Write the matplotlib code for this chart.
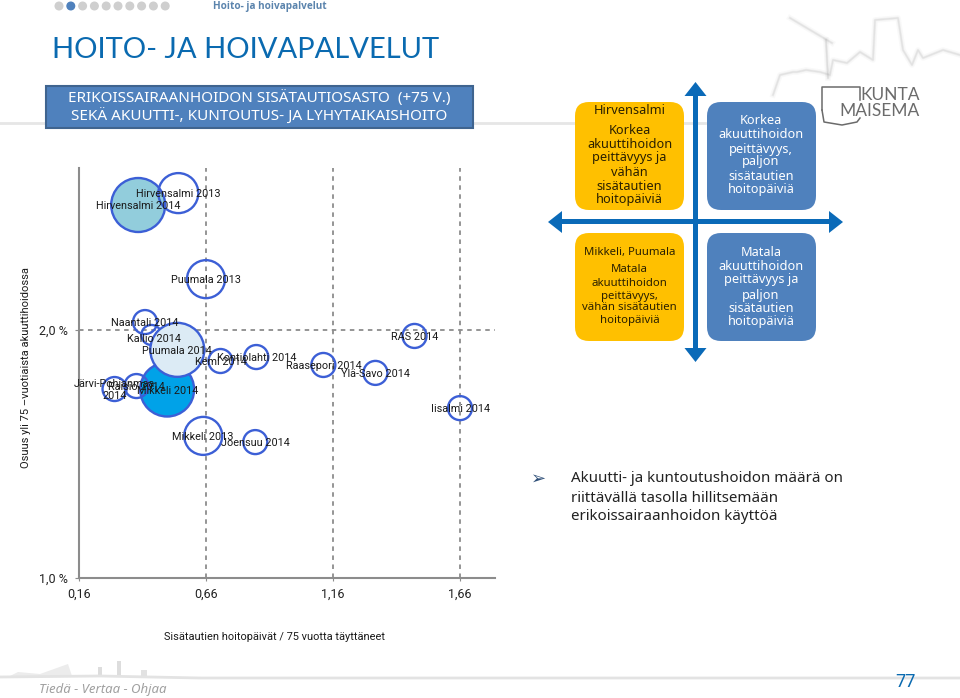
import matplotlib
matplotlib.use('Agg')
import matplotlib.pyplot as plt
from matplotlib.patches import FancyBboxPatch, Rectangle, Circle, Polygon

# bubble chart data
labels = ['Hirvensalmi 2014', 'Hirvensalmi 2013', 'Puumala 2013', 'Naantali 2014', 'Kallio 2014',
          'Mikkeli 2014', 'Puumala 2014', 'Kemi 2014', 'Kontiolahti 2014', 'Järvi-Pohjanmaa\n2014',
          'Raisio 2014', 'Mikkeli 2013', 'Joensuu 2014', 'Raasepori 2014', 'Ylä-Savo 2014',
          'RAS 2014', 'Iisalmi 2014']
hoitopaivat = [0.393, 0.551, 0.66, 0.42, 0.445, 0.507, 0.547, 0.717, 0.858, 0.30, 0.386, 0.649,
               0.854, 1.122, 1.327, 1.481, 1.66]
osuus = [2.504, 2.552, 2.205, 2.032, 1.98, 1.76, 1.92, 1.875, 1.891, 1.762, 1.774, 1.573, 1.548,
         1.859, 1.827, 1.976, 1.685]
koko = [27, 20, 19, 12, 10, 27, 27, 12, 12, 12, 12, 19, 12, 12, 12, 12, 12]
tayte = ['#92cddc', 'none', 'none', 'none', 'none', '#00a2e8', '#dcebf5', 'none', 'none', 'none',
         'none', 'none', 'none', 'none', 'none', 'none', 'none']

x_ticks = [0.16, 0.66, 1.16, 1.66]
x_tick_labels = ['0,16', '0,66', '1,16', '1,66']

W, H = 960, 698
TAHOMA = ['Noto Sans', 'DejaVu Sans']
ARIAL = 'Roboto'

fig = plt.figure(figsize=(W / 100, H / 100), dpi=100)

# whole slide in pixel coordinates
bg = fig.add_axes([0, 0, 1, 1])
bg.set_xlim(0, W)
bg.set_ylim(H, 0)
bg.axis('off')

# grey rules
bg.plot([0, 705], [123, 123], color='#e6e6e6', lw=2, zorder=1)
bg.plot([0, 100, 200, 960], [677, 676, 678, 678], color='#e3e3e3', lw=2, zorder=1)

# progress dots
for i in range(10):
    bg.add_patch(Circle((59 + i * 11.8, 6), 3.8, color='#4f81bd' if i == 1 else '#cfcfcf', zorder=2))
bg.text(213, 6, 'Hoito- ja hoivapalvelut', color='#5b84ad', fontsize=7.2, fontweight='bold',
        family='Open Sans', va='center')

bg.text(52, 50, 'HOITO- JA HOIVAPALVELUT', color='#0a6ab0', fontsize=21, family='Lato', va='center')

# banner
bg.add_patch(Rectangle((46, 86), 427, 42, fc='#4f81bd', ec='#3f648f', lw=1.5, zorder=2))
bg.text(259.5, 98, 'ERIKOISSAIRAANHOIDON SISÄTAUTIOSASTO  (+75 V.)', color='white', fontsize=11,
        family=TAHOMA, ha='center', va='center', zorder=3)
bg.text(259.5, 117, 'SEKÄ AKUUTTI-, KUNTOUTUS- JA LYHYTAIKAISHOITO', color='white', fontsize=11,
        family=TAHOMA, ha='center', va='center', zorder=3)

# quadrant boxes
def box(x0, y0, col):
    bg.add_patch(FancyBboxPatch((x0 + 14, y0 + 14), 109 - 28, 108 - 28, boxstyle='round,pad=14,rounding_size=14',
                                fc=col, ec='none', zorder=2))

box(575, 102, '#ffc000')
box(707, 102, '#4f81bd')
box(575, 233, '#ffc000')
box(707, 233, '#4f81bd')

def box_text(x, y_list, lines, col, size=9.2):
    for y, s in zip(y_list, lines):
        bg.text(x, y, s, color=col, fontsize=size, family=TAHOMA, ha='center', va='center', zorder=3)

box_text(629.5, [110, 130, 144, 158, 172, 186, 200],
         ['Hirvensalmi', 'Korkea', 'akuuttihoidon', 'peittävyys ja', 'vähän', 'sisätautien', 'hoitopäiviä'], '#2a2000')
box_text(761, [120, 134, 149, 162, 176, 190],
         ['Korkea', 'akuuttihoidon', 'peittävyys,', 'paljon', 'sisätautien', 'hoitopäiviä'], 'white')
box_text(629.5, [253, 270, 283, 296, 308, 320],
         ['Mikkeli, Puumala', 'Matala', 'akuuttihoidon', 'peittävyys,', 'vähän sisätautien', 'hoitopäiviä'],
         '#2a2000', size=8.2)
box_text(761, [252, 266, 280, 295, 308, 322],
         ['Matala', 'akuuttihoidon', 'peittävyys ja', 'paljon', 'sisätautien', 'hoitopäiviä'], 'white')

# blue cross arrows
arrow = '#0a6ab8'
bg.add_patch(Rectangle((693, 95), 5, 254, fc=arrow, ec='none', zorder=4))
bg.add_patch(Rectangle((561, 219), 269, 5, fc=arrow, ec='none', zorder=4))
bg.add_patch(Polygon([(684.5, 96), (695.5, 82), (706.5, 96)], fc=arrow, ec='none', zorder=4))
bg.add_patch(Polygon([(684.5, 348), (695.5, 362), (706.5, 348)], fc=arrow, ec='none', zorder=4))
bg.add_patch(Polygon([(562, 211), (548, 222), (562, 233)], fc=arrow, ec='none', zorder=4))
bg.add_patch(Polygon([(829, 211), (843, 222), (829, 233)], fc=arrow, ec='none', zorder=4))

# logo
bg.plot([822, 822, 860, 860], [110, 87, 87, 100], color='#6b6b6b', lw=1.1, zorder=2)
bg.plot([822, 824, 842, 857, 860], [110, 122, 125, 122, 118], color='#6b6b6b', lw=1.1, zorder=2)
bg.text(920, 95, 'KUNTA', color='#6b6b6b', fontsize=12.5, family='Lato', ha='right', va='center', zorder=3)
bg.text(920, 111, 'MAISEMA', color='#6b6b6b', fontsize=12.5, family='Lato', ha='right', va='center', zorder=3)

# skyline behind the logo, only a soft grey edge
sky_x = [773, 780, 793, 797, 806, 820, 830, 833, 847, 860, 873, 875, 898, 903, 912, 918, 923, 943, 960]
sky_y = [95, 75, 72, 72, 70, 72, 75, 60, 63, 52, 60, 20, 18, 50, 65, 50, 58, 50, 55]
for lw, al in [(4, 0.06), (2, 0.1), (1, 0.15)]:
    bg.plot(sky_x, sky_y, color='#9a9a9a', lw=lw, alpha=al, zorder=1)
    bg.plot([790, 832], [18, 43], color='#9a9a9a', lw=lw, alpha=al, zorder=1)
    bg.plot([826, 828], [40, 78], color='#8a8a8a', lw=lw, alpha=al, zorder=1)

# bullet text
bg.text(539, 479, '➢', color='#2f4f78', fontsize=13, family='DejaVu Sans', ha='center', va='center')
for y, s in zip([478, 498, 517], ['Akuutti- ja kuntoutushoidon määrä on', 'riittävällä tasolla hillitsemään',
                                 'erikoissairaanhoidon käyttöä']):
    bg.text(571, y, s, color='#222222', fontsize=10.9, family=TAHOMA, va='center')

# footer
bg.add_patch(Polygon([(8, 677), (18, 672), (40, 674), (68, 664), (72, 676)], fc='#ececec', ec='none', zorder=0))
bg.add_patch(Rectangle((98, 667), 4, 9, fc='#dddddd', ec='none', zorder=0))
bg.add_patch(Rectangle((117, 661), 4, 15, fc='#dddddd', ec='none', zorder=0))
bg.add_patch(Rectangle((141, 670), 6, 7, fc='#e2e2e2', ec='none', zorder=0))
bg.text(39, 690, 'Tiedä - Vertaa - Ohjaa', color='#a0a0a0', fontsize=9.5, style='italic', family=TAHOMA,
        va='center')
bg.text(905, 682, '77', color='#0a6ab0', fontsize=13, family=TAHOMA, ha='center', va='center', zorder=3)

# the bubble chart
x0_px, x1_px, y0_px, y1_px = 79, 495, 578, 168
ax = fig.add_axes([x0_px / W, 1 - y0_px / H, (x1_px - x0_px) / W, (y0_px - y1_px) / H])
ax.patch.set_alpha(0)
ax.set_xlim(0.16, 0.16 + (x1_px - x0_px) / 254)
ax.set_ylim(1.0, 1.0 + (y0_px - y1_px) / 248)
for s in ['top', 'right']:
    ax.spines[s].set_visible(False)
for s in ['left', 'bottom']:
    ax.spines[s].set_color('#8c8c8c')
    ax.spines[s].set_linewidth(1.5)
ax.set_xticks(x_ticks)
ax.set_xticklabels(x_tick_labels, fontsize=9, family=ARIAL, color='#222222')
ax.set_yticks([1.0, 2.0])
ax.set_yticklabels(['1,0 %', '2,0 %'], fontsize=9, family=ARIAL, color='#222222')
ax.tick_params(axis='x', color='#8c8c8c', length=2, pad=5)
ax.tick_params(axis='y', color='#8c8c8c', length=3, pad=5)
ax.grid(True, color='#8c8c8c', linestyle=(0, (2.5, 2.5)), lw=1.3)
ax.set_axisbelow(True)

sizes = [(2 * r * 0.72) ** 2 for r in koko]
ax.scatter(hoitopaivat, osuus, s=sizes, c=tayte, edgecolors='#3c5fd6', linewidths=1.7, zorder=3)

# the labels overlap in the original too, only Kallio sits off its bubble
for name, xv, yv in zip(labels, hoitopaivat, osuus):
    dx, dy = (3, -4) if name == 'Kallio 2014' else (0, -1)
    ax.annotate(name, (xv, yv), xytext=(dx, dy), textcoords='offset pixels', ha='center', va='center',
                fontsize=7.8, family=ARIAL, color='#1a1a1a', zorder=5, linespacing=1.15)

bg.text(275, 637, 'Sisätautien hoitopäivät / 75 vuotta täyttäneet', fontsize=7.9, family=ARIAL, ha='center',
        va='center', color='#1a1a1a')
bg.text(26, 367, 'Osuus yli 75 –vuotiaista akuuttihoidossa', fontsize=8, family=ARIAL, rotation=90, ha='center',
        va='center', color='#1a1a1a')

fig.savefig('out.png', dpi=100)
